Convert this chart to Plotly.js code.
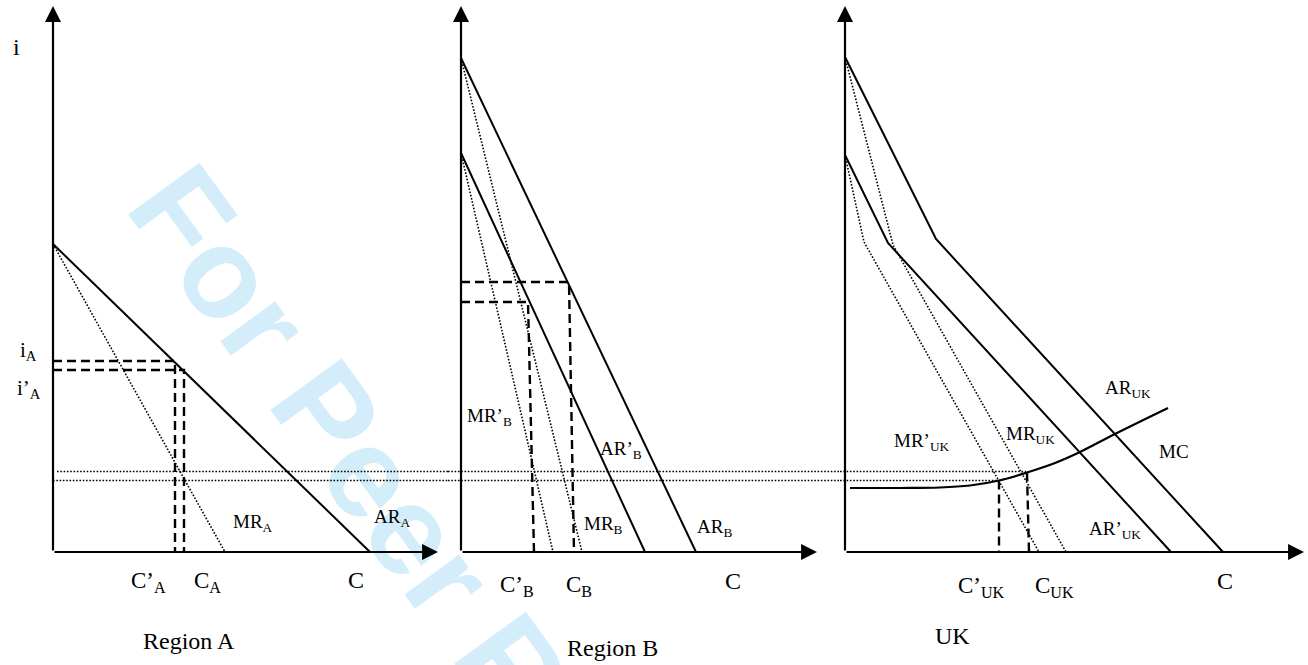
<!DOCTYPE html>
<html>
<head>
<meta charset="utf-8">
<script src="https://cdn.plot.ly/plotly-3.0.1.min.js"></script>
<style>
  html, body { margin: 0; padding: 0; background: #ffffff; }
  #chart { width: 1308px; height: 665px; }
</style>
</head>
<body>
<div id="chart"></div>
<script>
// ---------- Data (units: C along x from each panel's origin, i along y from the C axis) ----------
// Region A
const arA_C = [0, 317];            const arA_i = [308, 0];
const mrA_C = [0, 172];            const mrA_i = [308, 0];
const eqA_C = [122, 131];          // C'_A, C_A
const eqA_i = [191, 182];          // i_A, i'_A

// Region B
const arB_C  = [0, 235];           const arB_i  = [494, 0];
const arB2_C = [0, 184];           const arB2_i = [399, 0];
const mrB_C  = [0, 121];           const mrB_i  = [494, 0];
const mrB2_C = [0, 92];            const mrB2_i = [399, 0];
const eqB_Ctop  = [67, 108];       // C'_B, C_B (top of dashed drop line)
const eqB_Cbase = [73, 113];       // C'_B, C_B (where it meets the C axis)
const eqB_i     = [250, 270];      // i'_B, i_B

// UK
const arUK_C  = [0, 91, 378];      const arUK_i  = [495, 313, 0];
const arUK2_C = [0, 43, 326];      const arUK2_i = [397, 309, 0];
const mrUK_C  = [0, 48, 221];      const mrUK_i  = [495, 307, 0];
const mrUK2_C = [0, 19, 194];      const mrUK2_i = [397, 310, 0];
const mc_C = [5, 55, 95, 125, 154, 182, 210, 235, 270, 323];
const mc_i = [64, 64, 64.5, 66.5, 71.5, 79.5, 89, 100, 118, 144];
const eqUK_Ctop  = [154, 182];     // C'_UK, C_UK
const eqUK_Cbase = [154, 184];
const eqUK_i     = [71.5, 79.5];

// MC levels carried across the three panels (dotted)
const mcLevels   = [80.5, 71.5];
const levelStartA = [4, 0];
const levelEndUK  = [181, 153];

// Axis lengths (arrow tips)
const axisTopI = 546;
const axisEndC = [385, 356, 459];

// ---------- Layout geometry ----------
const W = 1308, H = 665;
const rangeA  = [-53, 395];
const rangeB  = [-13, 379];
const rangeUK = [-5, 463];
const yRange  = [-113, 552];

const BLACK = '#000000';
const solid  = {color: BLACK, width: 2};
const dotted = {color: BLACK, width: 1.6, dash: '1.6px,1.7px'};
const dashed = {color: BLACK, width: 2.4, dash: '9px,5px'};

const traces = [];
function add(xa, xs, ys, line, shape) {
  traces.push({
    x: xs, y: ys, xaxis: xa, yaxis: 'y', type: 'scatter', mode: 'lines',
    line: Object.assign({}, line, shape ? {shape: shape, smoothing: 1} : {}),
    hoverinfo: 'skip', showlegend: false
  });
}

// Region A
add('x', arA_C, arA_i, solid);
add('x', mrA_C, mrA_i, dotted);
for (let k = 0; k < 2; k++) {
  add('x', [0, eqA_C[k], eqA_C[k]], [eqA_i[k], eqA_i[k], 0], dashed);
}
// Region B
add('x2', arB_C, arB_i, solid);
add('x2', arB2_C, arB2_i, solid);
add('x2', mrB_C, mrB_i, dotted);
add('x2', mrB2_C, mrB2_i, dotted);
for (let k = 0; k < 2; k++) {
  add('x2', [0, eqB_Ctop[k], eqB_Cbase[k]], [eqB_i[k], eqB_i[k], 0], dashed);
}
// UK
add('x3', arUK_C, arUK_i, solid);
add('x3', arUK2_C, arUK2_i, solid);
add('x3', mrUK_C, mrUK_i, dotted);
add('x3', mrUK2_C, mrUK2_i, dotted);
add('x3', mc_C, mc_i, {color: BLACK, width: 2.2}, 'spline');
for (let k = 0; k < 2; k++) {
  add('x3', [eqUK_Ctop[k], eqUK_Cbase[k]], [eqUK_i[k], 0], dashed);
}
// Dotted MC levels across panels
for (let k = 0; k < 2; k++) {
  add('x',  [levelStartA[k], rangeA[1]], [mcLevels[k], mcLevels[k]], dotted);
  add('x2', [rangeB[0], rangeB[1]],      [mcLevels[k], mcLevels[k]], dotted);
  add('x3', [rangeUK[0], levelEndUK[k]], [mcLevels[k], mcLevels[k]], dotted);
}

// ---------- Axes arrows ----------
const annotations = [];
['x', 'x2', 'x3'].forEach(function (xa, p) {
  annotations.push({xref: xa, yref: 'y', axref: xa, ayref: 'y', x: 0, y: axisTopI, ax: 0, ay: 0,
    text: '', showarrow: true, arrowhead: 2, arrowsize: 1.45, arrowwidth: 2.2, arrowcolor: BLACK, standoff: 0});
  annotations.push({xref: xa, yref: 'y', axref: xa, ayref: 'y', x: axisEndC[p], y: 0, ax: 0, ay: 0,
    text: '', showarrow: true, arrowhead: 2, arrowsize: 1.45, arrowwidth: 2.2, arrowcolor: BLACK, standoff: 0});
});

// ---------- Text labels ----------
const SERIF = 'Liberation Serif, Times New Roman, serif';
function lab(xa, x, y, text, size) {
  annotations.push({xref: xa, yref: 'y', x: x, y: y, text: text, showarrow: false,
    font: {family: SERIF, size: size, color: BLACK}, xanchor: 'center', yanchor: 'middle'});
}
// Region A
lab('x', -37, 505, 'i', 24);
lab('x', -25, 201, 'i<sub>A</sub>', 21);
lab('x', -24, 163, 'i’<sub>A</sub>', 21);
lab('x', 200, 29, 'MR<sub>A</sub>', 19);
lab('x', 339, 34, 'AR<sub>A</sub>', 19);
lab('x', 95, -30, 'C’<sub>A</sub>', 23);
lab('x', 154, -30, 'C<sub>A</sub>', 23);
lab('x', 303, -28, 'C', 24);
lab('x', 136, -89, 'Region A', 24);
// Region B
lab('x2', -33, 502, 'i', 24);
lab('x2', -48, 270, 'i<sub>B</sub>', 21);
lab('x2', -45, 227, 'i’<sub>B</sub>', 21);
lab('x2', 28, 135, 'MR’<sub>B</sub>', 19);
lab('x2', 160, 102, 'AR’<sub>B</sub>', 19);
lab('x2', 142, 27, 'MR<sub>B</sub>', 19);
lab('x2', 253, 24, 'AR<sub>B</sub>', 19);
lab('x2', 56, -34, 'C’<sub>B</sub>', 23);
lab('x2', 118, -34, 'C<sub>B</sub>', 23);
lab('x2', 272, -29, 'C', 24);
lab('x2', 151, -96, 'Region B', 24);
// UK
lab('x3', -35, 497, 'i', 24);
lab('x3', 283, 163, 'AR<sub>UK</sub>', 19);
lab('x3', 77, 110, 'MR’<sub>UK</sub>', 19);
lab('x3', 185, 117, 'MR<sub>UK</sub>', 19);
lab('x3', 329, 101, 'MC', 19);
lab('x3', 270, 22, 'AR’<sub>UK</sub>', 19);
lab('x3', 136, -35, 'C’<sub>UK</sub>', 23);
lab('x3', 209, -35, 'C<sub>UK</sub>', 23);
lab('x3', 380, -29, 'C', 24);
lab('x3', 107, -84, 'UK', 24);

// ---------- Watermark (drawn beneath the lines) ----------
const shapes = [{
  type: 'rect', xref: 'paper', yref: 'paper',
  x0: 0.343, x1: 0.363, y0: 0.122, y1: 0.142,
  layer: 'below', line: {width: 0}, fillcolor: 'rgba(0,0,0,0)',
  label: {text: 'For Peer Review', textangle: 54, textposition: 'middle center',
    font: {family: 'Liberation Sans, Arial, sans-serif', size: 128, color: '#d4edfa', weight: 'bold'}}
}];

const hidden = {visible: false, showgrid: false, zeroline: false, fixedrange: true};
const layout = {
  width: W, height: H,
  margin: {l: 0, r: 0, t: 0, b: 0, pad: 0},
  paper_bgcolor: '#ffffff', plot_bgcolor: 'rgba(0,0,0,0)',
  showlegend: false,
  xaxis:  Object.assign({}, hidden, {domain: [0, 448 / W],        range: rangeA,  anchor: 'y'}),
  xaxis2: Object.assign({}, hidden, {domain: [448 / W, 840 / W],  range: rangeB,  anchor: 'y'}),
  xaxis3: Object.assign({}, hidden, {domain: [840 / W, 1],        range: rangeUK, anchor: 'y'}),
  yaxis:  Object.assign({}, hidden, {domain: [0, 1], range: yRange, anchor: 'x'}),
  annotations: annotations,
  shapes: shapes
};

Plotly.newPlot('chart', traces, layout, {staticPlot: true, displayModeBar: false});
</script>
</body>
</html>
